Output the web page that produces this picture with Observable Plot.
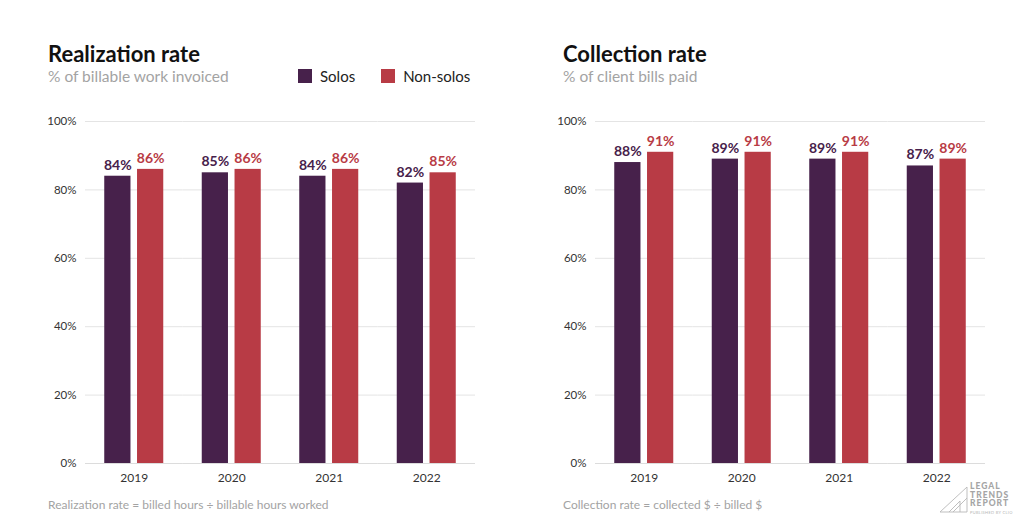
<!DOCTYPE html>
<html>
<head>
<meta charset="utf-8">
<script src="https://cdn.jsdelivr.net/npm/d3@7"></script>
<script src="https://cdn.jsdelivr.net/npm/@observablehq/plot@0.6"></script>
<style>
  html, body { margin: 0; padding: 0; background: #fff; }
  body { width: 1024px; height: 531px; position: relative; overflow: hidden; font-family: Lato, "Open Sans", sans-serif; }
  .title { position: absolute; font-weight: 700; font-size: 22px; color: #111; }
  .subtitle { position: absolute; font-size: 15.5px; color: #a3a3a3; }
  .legend { position: absolute; display: flex; align-items: center; font-size: 15px; color: #222; }
  .legend .sw { width: 14px; height: 14px; display: inline-block; margin-right: 8px; }
  .legend .item { display: flex; align-items: center; margin-right: 26px; }
  .note { position: absolute; font-size: 12px; color: #a3a3a3; }
  .chart { position: absolute; }
  .logo { position: absolute; left: 939px; top: 482px; width: 85px; height: 42px; }
  .logo .txt { position: absolute; left: 31px; top: 0; font-size: 8.5px; line-height: 8.5px; font-weight: 900; color: #a5a5a5; letter-spacing: 1px; }
  .logo .pub { position: absolute; left: 31px; top: 28px; font-size: 4px; color: #b5b5b5; letter-spacing: 0.3px; white-space: nowrap; }
</style>
</head>
<body>
<div class="title" style="left:48px; top:40px;">Realization rate</div>
<div class="subtitle" style="left:48px; top:67px;">% of billable work invoiced</div>
<div class="legend" id="legend" style="left:298px; top:67px;"></div>

<div class="title" style="left:563px; top:40px;">Collection rate</div>
<div class="subtitle" style="left:563px; top:67px;">% of client bills paid</div>

<div class="chart" id="left" style="left:0px; top:105px;"></div>
<div class="chart" id="right" style="left:510px; top:105px;"></div>

<div class="note" style="left:48px; top:497px;">Realization rate = billed hours ÷ billable hours worked</div>
<div class="note" style="left:563px; top:497px;">Collection rate = collected $ ÷ billed $</div>

<div class="logo">
  <svg width="30" height="28" style="position:absolute;left:0;top:4px" fill="none" stroke="#b8b8b8" stroke-width="0.9">
    <polyline points="1,26 28,1 28,26 1,26"/>
    <polyline points="10,26 21,15 21,26"/>
    <line x1="14" y1="26" x2="28" y2="12"/>
  </svg>
  <div class="txt">LEGAL<br>TRENDS<br>REPORT</div>
  <div class="pub">PUBLISHED BY CLIO</div>
</div>

<script>
// Years on the x axis and the two firm groups
const years = ["2019", "2020", "2021", "2022"];
const series = ["Solos", "Non-solos"];
const colors = ["#47214b", "#b83b45"];
const yTicks = [0, 20, 40, 60, 80, 100];

// Realization rate (% of billable work invoiced)
const realizationSolos = [84, 85, 84, 82];
const realizationNonSolos = [86, 86, 86, 85];

// Collection rate (% of client bills paid)
const collectionSolos = [88, 89, 89, 87];
const collectionNonSolos = [91, 91, 91, 89];

function rowsOf(solos, nonSolos) {
  const rows = [];
  years.forEach((year, i) => {
    rows.push({year, series: series[0], value: solos[i]});
    rows.push({year, series: series[1], value: nonSolos[i]});
  });
  return rows;
}

function chart(rows) {
  return Plot.plot({
    width: 475,
    height: 385,
    marginLeft: 85,
    marginRight: 0,
    marginTop: 16,
    marginBottom: 27,
    style: {fontFamily: "Lato, 'Open Sans', sans-serif", fontSize: "12px", color: "#333", background: "transparent", overflow: "visible"},
    fx: {domain: years, padding: 0, round: false, label: null, axis: "bottom", tickSize: 0, tickPadding: 10},
    x: {domain: series, axis: null, round: false, paddingInner: 0.2, paddingOuter: 0.587},
    y: {domain: [0, 100], axis: null},
    color: {domain: series, range: colors},
    marks: [
      Plot.gridY(yTicks, {stroke: "#e4e4e4", strokeOpacity: 1}),
      Plot.axisY(yTicks, {tickSize: 0, tickPadding: 9, tickFormat: d => d + "%", line: true, stroke: "#e4e4e4", fill: "#333", fontSize: 11.5, label: null}),
      Plot.ruleY([0], {stroke: "#dcdcdc"}),
      Plot.barY(rows, {fx: "year", x: "series", y: "value", fill: "series"}),
      Plot.text(rows, {fx: "year", x: "series", y: "value", text: d => d.value + "%", dy: -11, fill: "series", fontWeight: "bold", fontSize: 14})
    ]
  });
}

document.getElementById("left").append(chart(rowsOf(realizationSolos, realizationNonSolos)));
document.getElementById("right").append(chart(rowsOf(collectionSolos, collectionNonSolos)));

// Legend built from the same series and colours
const legend = document.getElementById("legend");
series.forEach((s, i) => {
  const item = document.createElement("div");
  item.className = "item";
  item.innerHTML = `<span class="sw" style="background:${colors[i]}"></span><span>${s}</span>`;
  legend.append(item);
});
</script>
</body>
</html>
